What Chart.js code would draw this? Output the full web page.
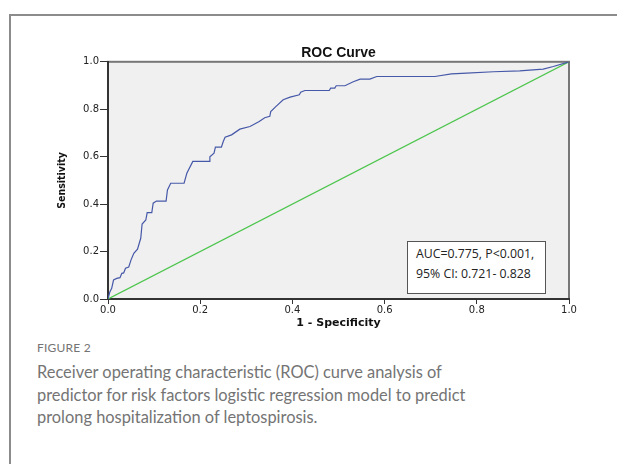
<!DOCTYPE html>
<html>
<head>
<meta charset="utf-8">
<script src="https://cdn.jsdelivr.net/npm/chart.js@4.4.0/dist/chart.umd.min.js"></script>
<style>
  html, body { margin: 0; padding: 0; background: #fff; }
  body { width: 617px; height: 464px; position: relative; overflow: hidden; }
  #frame { position: absolute; left: 9px; top: 14px; width: 700px; height: 500px;
           border-left: 2px solid #8c8c8c; border-top: 2px solid #8c8c8c; }
  #roc { position: absolute; left: 0; top: 0; }
  #stats { position: absolute; left: 407px; top: 241px; width: 139px; height: 53px;
           background: #fff; border: 1px solid #555; box-sizing: border-box;
           font-family: "Open Sans", sans-serif; font-size: 12.3px; line-height: 20px;
           color: #222; padding: 2px 0 0 8px; white-space: nowrap; }
  #caption { position: absolute; left: 37px; top: 340px; width: 575px;
             font-family: Lato, sans-serif; color: #747474; }
  #caption .fig { font-size: 12px; letter-spacing: 0.2px; margin-bottom: 6px; }
  #caption .txt { font-size: 16.4px; line-height: 22.5px; font-weight: 400; white-space: nowrap; }
</style>
</head>
<body>
<div id="frame"></div>
<canvas id="roc" width="617" height="340"></canvas>
<div id="stats">AUC=0.775, P&lt;0.001,<br>95% CI: 0.721- 0.828</div>
<div id="caption">
  <div class="fig">FIGURE 2</div>
  <div class="txt">Receiver operating characteristic (ROC) curve analysis of<br>predictor for risk factors logistic regression model to predict<br>prolong hospitalization of leptospirosis.</div>
</div>
<script>
// ROC curve (1 - specificity, sensitivity)
const fpr = [0, 0.004, 0.008, 0.012, 0.019, 0.026, 0.030, 0.034, 0.038, 0.045,
  0.050, 0.056, 0.064, 0.071, 0.074, 0.082, 0.085, 0.095, 0.098, 0.105,
  0.126, 0.129, 0.136, 0.165, 0.169, 0.171, 0.184, 0.220, 0.221, 0.230,
  0.233, 0.246, 0.250, 0.254, 0.268, 0.286, 0.308, 0.328, 0.340, 0.351,
  0.353, 0.364, 0.380, 0.395, 0.415, 0.418, 0.427, 0.480, 0.483, 0.492,
  0.495, 0.514, 0.532, 0.547, 0.568, 0.583, 0.709, 0.745, 0.778, 0.836,
  0.893, 0.944, 0.966, 1.0];
const tpr = [0, 0.030, 0.045, 0.080, 0.087, 0.090, 0.108, 0.110, 0.130, 0.135,
  0.165, 0.193, 0.210, 0.256, 0.316, 0.333, 0.364, 0.364, 0.404, 0.413,
  0.413, 0.460, 0.488, 0.488, 0.516, 0.530, 0.580, 0.580, 0.600, 0.615,
  0.640, 0.640, 0.664, 0.682, 0.692, 0.716, 0.727, 0.748, 0.764, 0.770,
  0.790, 0.811, 0.840, 0.851, 0.861, 0.872, 0.879, 0.879, 0.889, 0.889,
  0.899, 0.899, 0.916, 0.927, 0.927, 0.938, 0.938, 0.949, 0.952, 0.958,
  0.962, 0.969, 0.980, 1.0];
// chance diagonal
const refX = [0, 1];
const refY = [0, 1];
const tickStep = 0.2;

const PAD_L = 50;

// grey plot background with a thin frame, like SPSS
const plotBg = {
  id: 'plotBg',
  beforeDraw(chart) {
    const { ctx, chartArea: a } = chart;
    ctx.save();
    ctx.fillStyle = '#f0f0f0';
    ctx.fillRect(a.left, a.top, a.width, a.height);
    ctx.strokeStyle = '#777';
    ctx.lineWidth = 2;
    ctx.strokeRect(a.left, a.top, a.width, a.height);
    ctx.restore();
  }
};

new Chart(document.getElementById('roc').getContext('2d'), {
  type: 'scatter',
  data: {
    datasets: [{
      data: fpr.map((x, i) => ({ x: x, y: tpr[i] })),
      showLine: true,
      borderColor: '#4658a8',
      borderWidth: 1.2,
      pointRadius: 0,
      tension: 0,
      order: 0
    }, {
      data: refX.map((x, i) => ({ x: x, y: refY[i] })),
      showLine: true,
      borderColor: '#4cc54c',
      borderWidth: 1.2,
      pointRadius: 0,
      order: 1
    }]
  },
  options: {
    responsive: false,
    animation: false,
    layout: { padding: { top: 45, left: PAD_L, right: 48, bottom: 5 } },
    plugins: {
      legend: { display: false },
      tooltip: { enabled: false },
      title: {
        display: true,
        fullSize: false,
        text: 'ROC Curve',
        color: '#111',
        font: { family: 'Liberation Sans', weight: 'bold', size: 14 },
        padding: { top: 0, bottom: 0 }
      }
    },
    scales: {
      x: {
        type: 'linear', min: 0, max: 1,
        afterFit: s => { s.height = 36; },
        ticks: { stepSize: tickStep, callback: v => v.toFixed(1), color: '#222',
                 font: { family: 'DejaVu Sans', size: 10 }, padding: 0, maxRotation: 0 },
        grid: { drawOnChartArea: false, drawTicks: true, tickLength: 5, color: '#333' },
        border: { color: '#333', width: 2 },
        title: { display: true, text: '1 - Specificity', color: '#111',
                 font: { family: 'DejaVu Sans', weight: 'bold', size: 11 },
                 padding: { top: 0, bottom: 5 } }
      },
      y: {
        type: 'linear', min: 0, max: 1,
        afterFit: s => { s.width = 108 - PAD_L; },
        ticks: { stepSize: tickStep, callback: v => v.toFixed(1), color: '#222',
                 font: { family: 'DejaVu Sans', size: 10 }, padding: 1 },
        grid: { drawOnChartArea: false, drawTicks: true, tickLength: 8, color: '#333' },
        border: { color: '#333', width: 2 },
        title: { display: true, text: 'Sensitivity', color: '#111',
                 font: { family: 'DejaVu Sans Condensed', weight: 'bold', size: 10.5 },
                 padding: { top: 6, bottom: 0 } }
      }
    }
  },
  plugins: [plotBg]
});
</script>
</body>
</html>
